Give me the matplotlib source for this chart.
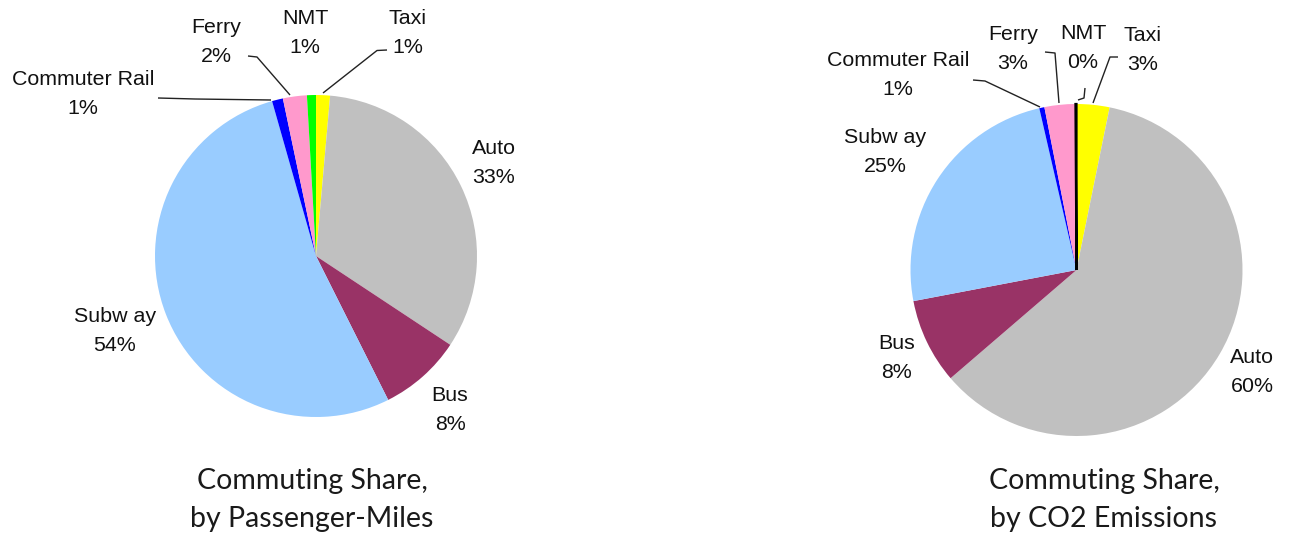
import matplotlib
matplotlib.use("Agg")
import matplotlib.pyplot as plt

# ---------------- data ----------------
modes = ["Taxi", "Auto", "Bus", "Subway", "Commuter Rail", "Ferry", "NMT"]
miles_share = [1.4, 32.9, 8.3, 53.0, 1.1, 2.4, 0.9]
co2_share = [3.2, 60.5, 8.3, 24.4, 0.5, 3.0, 0.1]
miles_pct_labels = ["1%", "33%", "8%", "54%", "1%", "2%", "1%"]
co2_pct_labels = ["3%", "60%", "8%", "25%", "1%", "3%", "0%"]
display_names = ["Taxi", "Auto", "Bus", "Subw ay", "Commuter Rail", "Ferry", "NMT"]
colors_left = ["#FFFF00", "#C0C0C0", "#993366", "#99CCFF", "#0000FF", "#FF99CC", "#00FF00"]
colors_right = ["#FFFF00", "#C0C0C0", "#993366", "#99CCFF", "#0000FF", "#FF99CC", "#000000"]
titles = ["Commuting Share,\nby Passenger-Miles", "Commuting Share,\nby CO2 Emissions"]

W, H = 1293, 533
fig = plt.figure(figsize=(W / 100, H / 100), dpi=100)
fig.patch.set_facecolor("white")

LABEL_FONT = ["Liberation Sans", "DejaVu Sans"]
LABEL_SIZE = 15.4


def make_pie_axes(cx, cy, r):
    ax = fig.add_axes([(cx - r) / W, (H - cy - r) / H, 2 * r / W, 2 * r / H])
    ax.axis("off")
    return ax


def px(ax_geom, x, y):
    cx, cy, r = ax_geom
    return (x - cx) / r, (cy - y) / r


def draw(ax_geom, values, colors, pct_labels, label_pos, leaders, title_pos):
    ax = make_pie_axes(*ax_geom)
    wedges, _ = ax.pie(values, colors=colors, startangle=90, counterclock=False,
                       radius=1.0, wedgeprops=dict(linewidth=0))
    # very thin slices: outline them in their own colour so they stay visible
    for w, v, c in zip(wedges, values, colors):
        if v < 0.3:
            w.set_edgecolor(c)
            w.set_linewidth(1.6)
    ax.set_xlim(-1, 1)
    ax.set_ylim(-1, 1)
    ax.set_aspect("equal")
    ax.axis("off")
    for name, pct, pos in zip(display_names, pct_labels, label_pos):
        x, y = px(ax_geom, *pos)
        ax.text(x, y, f"{name}\n{pct}", ha="center", va="center",
                fontsize=LABEL_SIZE, family=LABEL_FONT, color="#111111",
                linespacing=1.68, clip_on=False)
    for pts in leaders:
        xs, ys = zip(*[px(ax_geom, *p) for p in pts])
        ax.plot(xs, ys, color="#222222", linewidth=1.0, clip_on=False,
                solid_capstyle="butt")
    fig.text(title_pos[0] / W, 1 - title_pos[1] / H, title_pos[2],
             ha="center", va="center", fontsize=20.5, family=["Lato", "DejaVu Sans"],
             color="#1a1a1a", linespacing=1.57)
    return ax


# label centres (pixel positions, top-left origin), order matching modes
left_labels = [(408, 33), (494, 163), (450, 410), (115, 331), (83, 94), (216, 42), (305, 33)]
left_leaders = [
    [(387, 50), (377, 50.5), (323, 93)],          # Taxi
    [(158, 98), (195, 99), (271, 100)],           # Commuter Rail
    [(248, 56), (257, 57), (290, 95)],            # Ferry
]
right_labels = [(1143, 50), (1252, 372), (897, 358), (885, 152), (898, 75), (1013, 49), (1083, 48)]
right_leaders = [
    [(1118, 57), (1110, 57), (1093, 103)],        # Taxi
    [(973, 80), (985, 81), (1040, 107)],          # Commuter Rail
    [(1045, 52), (1055, 53), (1059, 103)],        # Ferry
    [(1085, 88), (1084, 98), (1078, 100)],        # NMT
]

draw((316, 256, 161), miles_share, colors_left, miles_pct_labels,
     left_labels, left_leaders, (312, 500, titles[0]))
draw((1076.5, 270, 166), co2_share, colors_right, co2_pct_labels,
     right_labels, right_leaders, (1104, 500, titles[1]))

fig.savefig("out.png", dpi=100, facecolor="white")
